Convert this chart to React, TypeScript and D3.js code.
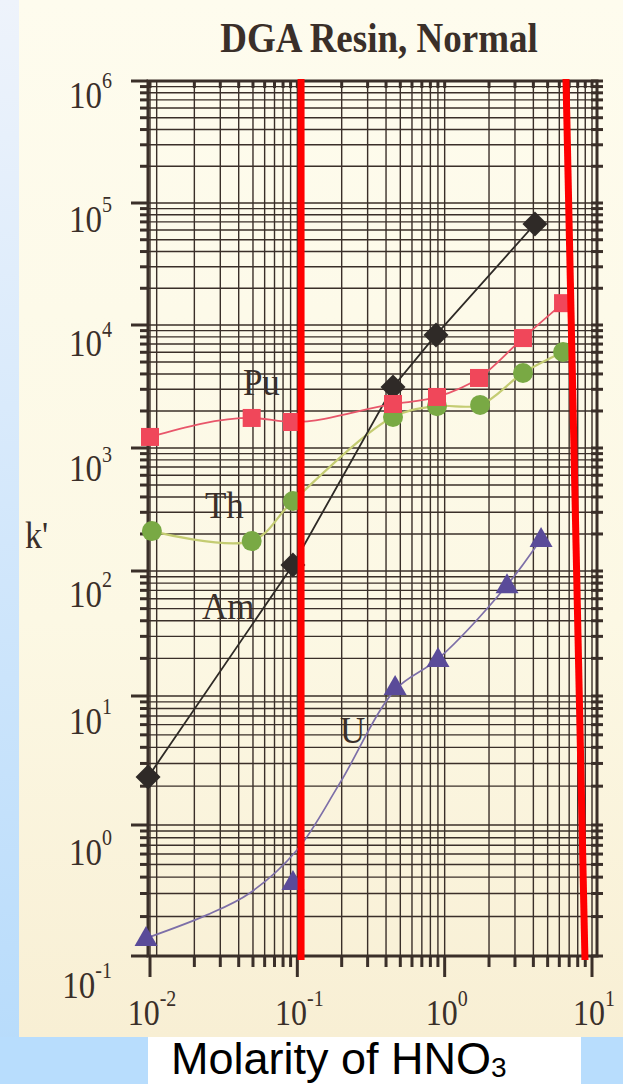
import React from 'react';
import * as d3 from 'd3';

const W = 623;
const H = 1084;

const titleText = 'DGA Resin, Normal';
const yAxisLabel = "k'";
const xAxisLabel = 'Molarity of HNO';
const xAxisLabelSub = '3';

const xTickExps = [-2, -1, 0, 1];
const yTickExps = [-1, 0, 1, 2, 3, 4, 5, 6];
const yDecades = [0.1, 1, 10, 100, 1e3, 1e4, 1e5, 1e6];

// Pu
const puX = [0.01, 0.049, 0.092, 0.446, 0.887, 1.71, 3.4, 6.36];
const puY = [1230, 1755, 1627, 2280, 2600, 3710, 7830, 15100];
// Th
const thX = [0.0103, 0.049, 0.0934, 0.446, 0.887, 1.74, 3.4, 6.36];
const thY = [211, 175, 371, 1787, 2190, 2240, 4070, 6030];
// Am
const amX = [0.0097, 0.0934, 0.446, 0.873, 4.1];
const amY = [2.36, 112, 3130, 8300, 67300];
// U (measured points)
const uX = [0.0094, 0.0934, 0.461, 0.901, 2.65, 4.51];
const uY = [0.137, 0.367, 11.8, 19.8, 77, 182];
// U fitted curve, as drawn in the figure
const uFitX = [0.01, 0.0244, 0.0477, 0.0995, 0.1948, 0.461, 0.901, 2.65, 4.51];
const uFitY = [0.14, 0.206, 0.303, 0.644, 2.12, 11.2, 19.8, 77, 182];

// series labels [x, y] in data units
const seriesLabels = ['Pu', 'Th', 'Am', 'U'];
const seriesLabelX = [0.0427, 0.0236, 0.02255, 0.1948];
const seriesLabelY = [2700, 270, 41.3, 4.33];

// red annotation lines: x at top, x at bottom
const redTopX = [0.106, 6.66];
const redBottomX = [0.106, 8.96];

const extraXGrid = [0.0111];

const SY = 1.12;
const SERIF = '"Liberation Serif", "Times New Roman", serif';
const INK = '#3a2f29';

function logGrid(lo: number, hi: number): number[] {
  const out: number[] = [];
  for (let e = lo; e < hi; e++) {
    for (let m = 1; m <= 9; m++) out.push(m * Math.pow(10, e));
  }
  out.push(Math.pow(10, hi));
  return out;
}

export default function App() {
  const x = d3.scaleLog().domain([0.01, 10]).range([150, 592]);
  const y = d3.scaleLog().domain(yDecades).range([956, 825, 696, 571, 448, 325, 203, 81]);
  const yLabOff = d3.scaleLinear().domain([-1, 6]).range([29, 14]);

  const left = 148;
  const right = 597;
  const top = y(1e6);
  const bottom = y(0.1);

  const xGrid = logGrid(-2, 1);
  const yGrid = logGrid(-1, 6);

  const isDecade = (v: number) => Math.abs(Math.log10(v) - Math.round(Math.log10(v))) < 1e-9;

  const mk = (xs: number[], ys: number[]) => xs.map((v, i) => [x(v), y(ys[i])] as [number, number]);
  const pu = mk(puX, puY);
  const th = mk(thX, thY);
  const am = mk(amX, amY);
  const u = mk(uX, uY);
  const uFit = mk(uFitX, uFitY);

  const lineSmooth = d3.line().curve(d3.curveMonotoneX);
  const lineCR = d3.line().curve(d3.curveCatmullRom.alpha(0.5));
  const lineStraight = d3.line();

  return (
    <svg width={W} height={H} style={{ position: 'absolute', left: 0, top: 0 }} xmlns="http://www.w3.org/2000/svg">
      <defs>
        <linearGradient id="bgBlue" x1="0" y1="0" x2="0" y2="1">
          <stop offset="0" stopColor="#eef3fb" />
          <stop offset="1" stopColor="#b6dbfb" />
        </linearGradient>
        <linearGradient id="cream" x1="0" y1="0" x2="0" y2="1">
          <stop offset="0" stopColor="#fefcee" />
          <stop offset="0.6" stopColor="#fcf8e4" />
          <stop offset="1" stopColor="#f8efd4" />
        </linearGradient>
      </defs>
      <rect x={0} y={0} width={W} height={H} fill="url(#bgBlue)" />
      <rect x={0} y={1037} width={W} height={H - 1037} fill="#b8ddfd" />
      <rect x={19} y={0} width={W - 19} height={1037} fill="url(#cream)" />
      <rect x={148} y={1037} width={433} height={H - 1037} fill="#ffffff" />

      {/* title */}
      <text transform={`translate(379,52) scale(1,${SY})`} textAnchor="middle" fontFamily={SERIF} fontWeight="bold" fontSize={37} fill={INK}>
        {titleText}
      </text>

      {/* grid */}
      <g stroke={INK} strokeWidth={1.4}>
        {xGrid.concat(extraXGrid).map((v, i) => (
          <line key={'vx' + i} x1={x(v)} x2={x(v)} y1={top} y2={bottom} />
        ))}
        {yGrid.map((v, i) => (
          <line key={'hy' + i} x1={left} x2={right} y1={y(v)} y2={y(v)} />
        ))}
      </g>

      {/* ticks */}
      <g stroke={INK} strokeWidth={3}>
        {yGrid.map((v, i) => (
          <line key={'tl' + i} x1={isDecade(v) ? left - 17 : left - 8} x2={left} y1={y(v)} y2={y(v)} />
        ))}
        {yGrid.map((v, i) => (
          <line key={'tr' + i} x1={right - 6} x2={right + 6} y1={y(v)} y2={y(v)} />
        ))}
        {xGrid.map((v, i) => (
          <line key={'tb' + i} x1={x(v)} x2={x(v)} y1={bottom} y2={isDecade(v) ? bottom + 21 : bottom + 11} />
        ))}
        {xGrid.map((v, i) => (
          <line key={'tt' + i} x1={x(v)} x2={x(v)} y1={top} y2={top + 7} />
        ))}
      </g>

      {/* frame */}
      <rect x={left} y={top} width={right - left} height={bottom - top} fill="none" stroke={INK} strokeWidth={3} />

      {/* y tick labels */}
      {yTickExps.map((e) => (
        <text key={'yl' + e} transform={`translate(112,${y(Math.pow(10, e)) + yLabOff(e) + 13}) scale(1,1.16)`} textAnchor="end" fontFamily={SERIF} fontSize={33} fill={INK}>
          10<tspan dy={-17} fontSize={20}>{String(e)}</tspan>
        </text>
      ))}

      {/* x tick labels */}
      {xTickExps.map((e) => (
        <text key={'xl' + e} transform={`translate(${x(Math.pow(10, e)) + 2},1025) scale(1,1.12)`} textAnchor="middle" fontFamily={SERIF} fontSize={32} fill={INK}>
          10<tspan dy={-17} fontSize={20}>{String(e)}</tspan>
        </text>
      ))}

      {/* y axis label */}
      <text transform={`translate(25,548) scale(1,${SY})`} fontFamily={SERIF} fontSize={34} fill={INK}>
        {yAxisLabel}
      </text>

      {/* series lines */}
      <path d={lineCR(uFit) || ''} fill="none" stroke="#7d6fa8" strokeWidth={1.7} />
      <path d={lineCR(th) || ''} fill="none" stroke="#c4cc72" strokeWidth={2.2} />
      <path d={lineStraight(am) || ''} fill="none" stroke="#2e2a26" strokeWidth={1.8} />
      <path d={lineSmooth(pu) || ''} fill="none" stroke="#e8566a" strokeWidth={1.8} />

      {/* markers */}
      {u.map(([px, py], i) => (
        <path key={'u' + i} d={`M${px},${py - 12}L${px + 11.5},${py + 8}L${px - 11.5},${py + 8}Z`} fill="#5a4b99" />
      ))}
      {th.map(([px, py], i) => (
        <circle key={'th' + i} cx={px} cy={py} r={10} fill="#79a944" />
      ))}
      {am.map(([px, py], i) => (
        <path key={'am' + i} d={`M${px},${py - 12.5}L${px + 12.5},${py}L${px},${py + 12.5}L${px - 12.5},${py}Z`} fill="#2f2a27" />
      ))}
      {pu.map(([px, py], i) => (
        <rect key={'pu' + i} x={px - 9} y={py - 9} width={18} height={18} fill="#f0475a" />
      ))}

      {/* series labels */}
      {seriesLabels.map((s, i) => (
        <text key={'sl' + s} transform={`translate(${x(seriesLabelX[i])},${y(seriesLabelY[i])}) scale(1,1.08)`} fontFamily={SERIF} fontSize={35} fill={INK}>
          {s}
        </text>
      ))}

      {/* red annotation lines */}
      {redTopX.map((v, i) => (
        <line key={'red' + i} x1={x(v)} x2={x(redBottomX[i])} y1={top - 2} y2={bottom + 4} stroke="#ff0000" strokeWidth={7} />
      ))}

      {/* x axis title */}
      <text x={171} y={1074} fontFamily='"Liberation Sans", Arial, sans-serif' fontSize={45} fill="#000000">
        {xAxisLabel}
        <tspan dy={3} fontSize={28}>{xAxisLabelSub}</tspan>
      </text>
    </svg>
  );
}
